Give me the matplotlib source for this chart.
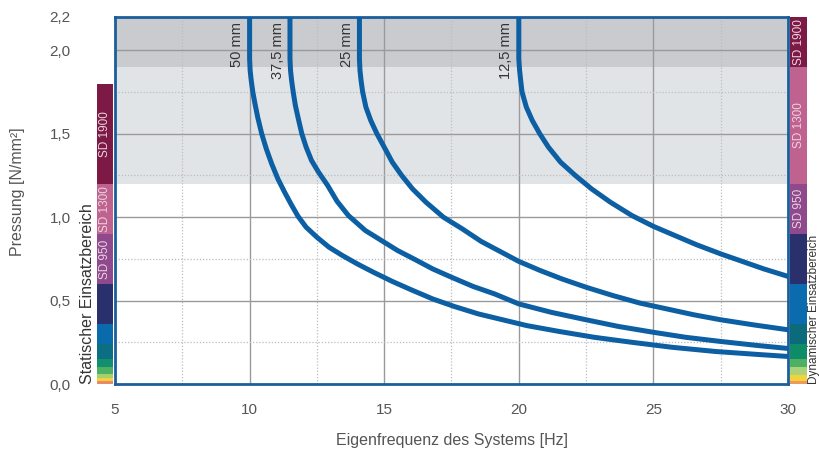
import numpy as np
import matplotlib
matplotlib.use("Agg")
import matplotlib.pyplot as plt

plt.rcParams['font.family'] = ['Liberation Sans', 'DejaVu Sans']

# axis ticks
x_ticks = [5, 10, 15, 20, 25, 30]
x_minor = [7.5, 12.5, 17.5, 22.5, 27.5]
y_ticks = [0.0, 0.5, 1.0, 1.5, 2.0, 2.2]
y_tick_labels = ['0,0', '0,5', '1,0', '1,5', '2,0', '2,2']
y_minor = [0.25, 0.75, 1.25, 1.75]

# curves (frequency Hz, pressure N/mm2)
f_50 = [10.0, 10.0, 10.02, 10.06, 10.12, 10.2, 10.3, 10.45, 10.62, 10.82, 11.05, 11.3, 11.55,
        11.8, 12.1, 12.5, 12.95, 13.45, 14.0, 14.6, 15.3, 16.0, 16.8, 17.6, 18.5, 19.4, 20.3,
        21.5, 22.8, 24.2, 25.7, 27.3, 28.8, 30.0]
p_50 = [2.2, 1.95, 1.88, 1.82, 1.75, 1.68, 1.6, 1.5, 1.41, 1.32, 1.23, 1.15, 1.075,
        1.005, 0.94, 0.88, 0.82, 0.77, 0.72, 0.67, 0.615, 0.565, 0.51, 0.465, 0.42, 0.385, 0.35,
        0.315, 0.28, 0.25, 0.22, 0.195, 0.178, 0.165]

f_375 = [11.5, 11.5, 11.52, 11.56, 11.62, 11.7, 11.81, 11.94, 12.1, 12.3, 12.56, 12.9, 13.25,
         13.67, 14.3, 15.0, 15.5, 16.1, 16.8, 17.5, 18.3, 19.1, 20.0, 21.2, 22.5, 23.7, 25.0,
         26.2, 27.5, 28.8, 30.0]
p_375 = [2.2, 1.95, 1.88, 1.82, 1.75, 1.67, 1.59, 1.5, 1.42, 1.34, 1.27, 1.19, 1.095,
         1.01, 0.92, 0.85, 0.8, 0.75, 0.69, 0.64, 0.585, 0.54, 0.48, 0.43, 0.385, 0.345, 0.31,
         0.28, 0.255, 0.232, 0.213]

f_25 = [14.08, 14.08, 14.1, 14.14, 14.2, 14.32, 14.5, 14.73, 15.0, 15.3, 15.65, 16.05, 16.55,
        17.2, 17.9, 18.6, 19.3, 20.0, 20.8, 21.6, 22.5, 23.5, 24.5, 25.5, 26.5, 27.5, 28.7, 30.0]
p_25 = [2.2, 1.95, 1.88, 1.82, 1.75, 1.66, 1.58, 1.5, 1.42, 1.33, 1.25, 1.17, 1.09,
        1.0, 0.93, 0.855, 0.795, 0.735, 0.68, 0.63, 0.58, 0.53, 0.485, 0.45, 0.415, 0.385, 0.355, 0.325]

f_125 = [20.0, 20.0, 20.03, 20.07, 20.12, 20.28, 20.5, 20.78, 21.1, 21.55, 22.1, 22.7, 23.4,
         24.2, 25.0, 25.8, 26.6, 27.5, 28.3, 29.1, 30.0]
p_125 = [2.2, 1.95, 1.88, 1.82, 1.75, 1.66, 1.58, 1.5, 1.42, 1.33, 1.25, 1.17, 1.09,
         1.01, 0.945, 0.89, 0.835, 0.78, 0.735, 0.69, 0.645]

curves = [(f_50, p_50, '50 mm'), (f_375, p_375, '37,5 mm'),
          (f_25, p_25, '25 mm'), (f_125, p_125, '12,5 mm')]

# side bars
static_bounds = [0, 0.015, 0.035, 0.06, 0.10, 0.15, 0.24, 0.36, 0.6, 0.9, 1.2, 1.8]
static_colors = ['#E8896A', '#F2D23A', '#A6CF6E', '#4DB065', '#10906E', '#0B6E82',
                 '#0A6BAC', '#2A306B', '#8E4A8D', '#C0628F', '#7C1A45']
static_labels = [('SD 1900', 1.5), ('SD 1300', 1.05), ('SD 950', 0.75)]

dyn_bounds = [0, 0.02, 0.056, 0.10, 0.15, 0.24, 0.36, 0.6, 0.9, 1.2, 1.9, 2.2]
dyn_colors = ['#EE9A5E', '#F2D43A', '#ACD27A', '#4FB063', '#0E8C68', '#0B6B7A',
              '#0A6BAE', '#2A306B', '#8E4A8D', '#C0628F', '#7C1A45']
dyn_labels = [('SD 1900', 2.05), ('SD 1300', 1.55), ('SD 950', 1.05)]

W, H = 819, 450
fig = plt.figure(figsize=(W / 100, H / 100), dpi=100)
ax = fig.add_axes([115 / W, 1 - 384 / H, 673 / W, 367 / H])

ax.axhspan(1.9, 2.2, color='#C9CBCE', zorder=0.1, lw=0)
ax.axhspan(1.2, 1.9, color='#E1E4E7', zorder=0.1, lw=0)

for x in x_ticks[1:-1]:
    ax.axvline(x, color='#9A9A9A', lw=1, zorder=0.5)
for x in x_minor:
    ax.axvline(x, color='#BDBDBD', lw=0.9, ls=(0, (1, 1.5)), zorder=0.5)
for y in y_ticks[1:-1]:
    ax.axhline(y, color='#9A9A9A', lw=1, zorder=0.5)
for y in y_minor:
    ax.axhline(y, color='#BDBDBD', lw=0.9, ls=(0, (1, 1.5)), zorder=0.5)

for f, p, name in curves:
    ax.plot(f, p, color='#0D5FA3', lw=3.6, solid_joinstyle='round', zorder=3)
    ax.text(f[0] - 0.2, 2.17, name, rotation=90, ha='right', va='top',
            fontsize=10.5, color='#333333', zorder=4)

ax.set_xlim(5, 30)
ax.set_ylim(0, 2.2)
ax.set_xticks(x_ticks)
ax.set_xticklabels([str(x) for x in x_ticks])
ax.set_yticks(y_ticks)
ax.set_yticklabels(y_tick_labels)
ax.tick_params(length=0, labelsize=11, labelcolor='#555555')
ax.tick_params(axis='x', pad=14)
ax.tick_params(axis='y', pad=32)
for s in ax.spines.values():
    s.set_color('#1B5E9B')
    s.set_linewidth(2)

# static bar (left)
axl = fig.add_axes([97 / W, 1 - 384 / H, 16 / W, 367 / H])
axl.bar([0] * len(static_colors), np.diff(static_bounds), bottom=static_bounds[:-1],
        width=1, color=static_colors, lw=0)
for lab, y in static_labels:
    axl.text(0, y, lab, rotation=90, ha='center', va='center', fontsize=8.5, color='#EBD3DF')

# dynamic bar (right)
axr = fig.add_axes([790 / W, 1 - 384 / H, 17 / W, 367 / H])
axr.bar([0] * len(dyn_colors), np.diff(dyn_bounds), bottom=dyn_bounds[:-1],
        width=1, color=dyn_colors, lw=0)
for lab, y in dyn_labels:
    axr.text(0, y, lab, rotation=90, ha='center', va='center', fontsize=8.5, color='#EBD3DF')

for a in (axl, axr):
    a.set_xlim(-0.5, 0.5)
    a.set_ylim(0, 2.2)
    a.axis('off')

fig.text(18 / W, 1 - 192 / H, 'Pressung [N/mm²]', rotation=90, ha='center', va='center',
         fontsize=11.5, color='#555555')
fig.text(88 / W, 1 - 384 / H, 'Statischer Einsatzbereich', rotation=90, ha='center', va='bottom',
         fontsize=11.5, color='#333333')
fig.text(819.5 / W, 1 - 384 / H, 'Dynamischer Einsatzbereich', rotation=90, ha='right', va='bottom',
         fontsize=8.5, color='#333333')
fig.text(452 / W, 1 - 440 / H, 'Eigenfrequenz des Systems [Hz]', ha='center', va='center',
         fontsize=11.5, color='#555555')

fig.savefig('out.png', dpi=100, facecolor='white')
